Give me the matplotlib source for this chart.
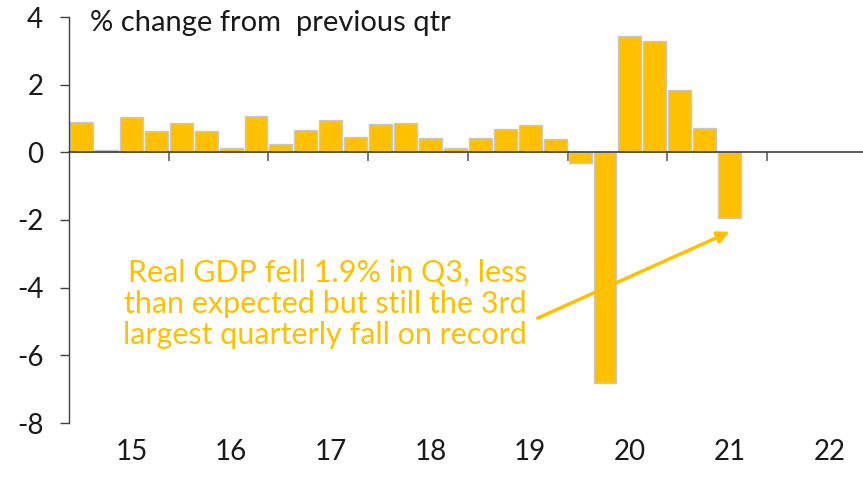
import matplotlib
matplotlib.use("Agg")
import matplotlib.pyplot as plt
import numpy as np

plt.rcParams['font.family'] = ['Lato', 'DejaVu Sans']

# Quarterly real GDP growth, 2015Q1 .. 2021Q3 (% q/q)
values = [0.90, 0.08, 1.04, 0.62, 0.86, 0.63, 0.12, 1.08,
          0.24, 0.65, 0.97, 0.44, 0.85, 0.87, 0.42, 0.13,
          0.41, 0.70, 0.80, 0.38, -0.32, -6.82, 3.43, 3.28,
          1.83, 0.71, -1.94]
year_labels = ["15", "16", "17", "18", "19", "20", "21", "22"]
y_ticks = [-8, -6, -4, -2, 0, 2, 4]

bar_color = "#FFC000"
W, H = 863, 480
fig = plt.figure(figsize=(W / 100, H / 100), dpi=100)
ax = fig.add_axes([69 / W, 1 - 423 / H, (W - 69) / W, (423 - 17) / H])

x = np.arange(len(values))
ax.bar(x, values, width=0.92, color=bar_color, edgecolor="#C8C8C8", linewidth=1.0, zorder=2)

ax.set_xlim(-0.5, 31.35)
ax.set_ylim(-8, 4)

for s in ["top", "right"]:
    ax.spines[s].set_visible(False)
ax.spines["left"].set_color("#404040")
ax.spines["left"].set_linewidth(1.0)
ax.spines["bottom"].set_position(("data", 0))
ax.spines["bottom"].set_color("#404040")
ax.spines["bottom"].set_linewidth(1.2)
ax.spines["bottom"].set_zorder(3)

ax.set_yticks(y_ticks)
ax.set_yticklabels([str(v) for v in y_ticks])
ax.tick_params(axis="y", direction="out", length=6.5, width=1.0, color="#404040",
               labelsize=20, pad=12, labelcolor="#1a1a1a")

boundaries = [-0.5 + 4 * k for k in range(1, len(year_labels))]
ax.set_xticks(boundaries)
ax.set_xticklabels([])
ax.tick_params(axis="x", direction="out", length=6.5, width=1.2, color="#606060")

trans = matplotlib.transforms.blended_transform_factory(ax.transData, fig.transFigure)
for k, lab in enumerate(year_labels):
    ax.text(2 + 4 * k, 1 - 452 / H, lab, transform=trans, ha="center", va="center",
            fontsize=20, color="#1a1a1a", clip_on=False)

fig.text(90 / W, 1 - 23 / H, "% change from  previous qtr", ha="left", va="center",
         fontsize=21, color="#1a1a1a")

ann = "Real GDP fell 1.9% in Q3, less\nthan expected but still the 3rd\nlargest quarterly fall on record"
fig.text(527 / W, 1 - 304 / H, ann, ha="right", va="center", fontsize=22,
         color=bar_color, linespacing=1.15)

# arrow pointing to the latest quarter
ax.annotate("", xy=(26.0, -2.35), xytext=(18.3, -4.9),
            arrowprops=dict(arrowstyle="-|>,head_length=0.7,head_width=0.35",
                            color=bar_color, lw=2.5, shrinkA=0, shrinkB=0),
            zorder=4)

fig.savefig("out.png", dpi=100)
